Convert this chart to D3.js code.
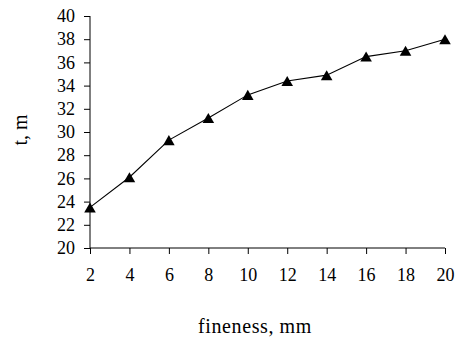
<!DOCTYPE html>
<html>
<head>
<meta charset="utf-8">
<script src="https://cdn.jsdelivr.net/npm/d3@7.9.0/dist/d3.min.js"></script>
<style>
  body { margin: 0; background: #fff; }
  svg { display: block; font-family: "Liberation Serif", "Times New Roman", serif; }
</style>
</head>
<body>
<div id="chart"></div>
<script>
// data
const fineness = [2, 4, 6, 8, 10, 12, 14, 16, 18, 20];
const tValues = [23.5, 26.1, 29.3, 31.2, 33.2, 34.4, 34.9, 36.5, 37, 38];
const yTicks = [20, 22, 24, 26, 28, 30, 32, 34, 36, 38, 40];

const width = 457;
const height = 342;

const svg = d3.select('#chart')
  .append('svg')
  .attr('width', width)
  .attr('height', height);

const xScale = d3.scaleLinear().domain([2, 20]).range([90, 445]);
const yScale = d3.scaleLinear().domain([20, 40]).range([248, 16]);

// y axis
const yAxis = d3.axisLeft(yScale)
  .tickValues(yTicks)
  .tickSize(6)
  .tickPadding(9);

const gy = svg.append('g')
  .attr('transform', `translate(${xScale(2)}, 0)`)
  .call(yAxis);

// x axis
const xAxis = d3.axisBottom(xScale)
  .tickValues(fineness)
  .tickSize(6)
  .tickPadding(14);

const gx = svg.append('g')
  .attr('transform', `translate(0, ${yScale(20)})`)
  .call(xAxis);

[gx, gy].forEach((g) => {
  g.select('.domain').attr('stroke', '#000');
  g.selectAll('.tick line').attr('stroke', '#000');
  g.selectAll('.tick text')
    .attr('fill', '#000')
    .style('font-size', '18px')
    .style('font-family', '"Liberation Serif", serif');
});
// plain axis lines without end caps
gy.select('.domain').attr('d', `M0,${yScale(40)}V${yScale(20)}`);
gx.select('.domain').attr('d', `M${xScale(2)},0H${xScale(20)}`);

// line
const line = d3.line()
  .x((d, i) => xScale(fineness[i]))
  .y((d) => yScale(d));

svg.append('path')
  .datum(tValues)
  .attr('fill', 'none')
  .attr('stroke', '#000')
  .attr('stroke-width', 1.1)
  .attr('d', line);

// markers (shifted so the triangle's box, not its centroid, sits on the point)
const markerSize = 58;
const markerShift = Math.sqrt(markerSize / (Math.sqrt(3) * 3)) / 2;
svg.append('g')
  .selectAll('path')
  .data(tValues)
  .join('path')
  .attr('transform', (d, i) => `translate(${xScale(fineness[i])}, ${yScale(d) + markerShift})`)
  .attr('d', d3.symbol(d3.symbolTriangle, markerSize))
  .attr('fill', '#000');

// axis titles
svg.append('text')
  .attr('x', 255)
  .attr('y', 333)
  .attr('text-anchor', 'middle')
  .style('font-size', '20px')
  .style('letter-spacing', '0.6px')
  .text('fineness, mm');

svg.append('text')
  .attr('transform', 'translate(27, 130) rotate(-90)')
  .attr('text-anchor', 'middle')
  .style('font-size', '20px')
  .text('t, m');
</script>
</body>
</html>
